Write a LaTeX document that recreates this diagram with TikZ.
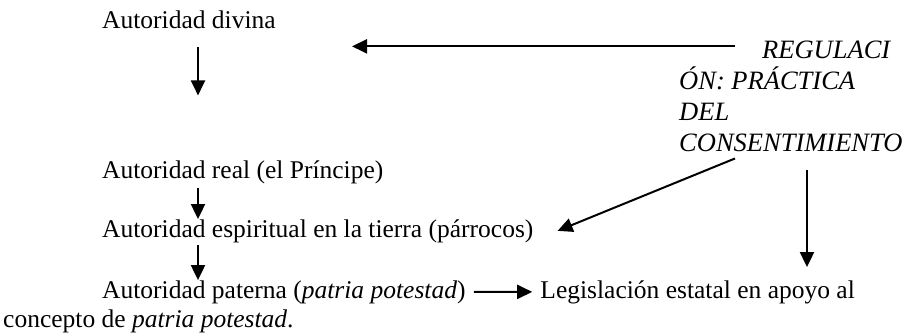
\documentclass[tikz,border=0pt]{standalone}
\usepackage{fontspec}
\setmainfont{Liberation Serif}
\usetikzlibrary{arrows.meta,positioning}

\begin{document}
\begin{tikzpicture}[x=1pt,y=-1pt,
  txt/.style={anchor=base west,inner sep=0pt,font=\fontsize{25.5}{29}\selectfont},
  regtxt/.style={txt,font=\fontsize{26.5}{31}\selectfont\itshape},
  arr/.style={line width=2pt,-{Triangle[length=15pt,width=14pt]}}]

 \useasboundingbox (0,0) rectangle (912,335);
 \coordinate (col) at (198,0);
 \coordinate (rcol) at (807,0);

 % left column
 \node[txt] (divina) at (102,28) {Autoridad divina};
 \node[txt] (real) at (102,178) {Autoridad real (el Príncipe)};
 \node[txt] (espiritual) at (102,237) {Autoridad espiritual en la tierra (párrocos)};
 \node[txt] (paterna) at (102,298) {Autoridad paterna (\textit{patria potestad})};
 \node[txt,anchor=base east] (legis) at (855,298) {Legislación estatal en apoyo al};
 \node[txt] (concepto) at (3,327) {concepto de \textit{patria potestad}.};

 % right block
 \node[regtxt] (reg1) at (762,58) {REGULACI};
 \node[regtxt] (reg2) at (679,89) {ÓN: PRÁCTICA};
 \node[regtxt] (reg3) at (679,120) {DEL};
 \node[regtxt] (reg4) at (679,151) {CONSENTIMIENTO};

 % arrows
 \draw[arr] ([yshift=-19pt]divina.south -| col) -- ++(0,48);
 \draw[arr,shorten <=4pt] (real.south -| col) -- (espiritual.north -| col);
 \draw[arr,shorten <=2pt] (espiritual.south -| col) -- (paterna.north -| col);
 \draw[arr] ([xshift=8pt]paterna.east) -- ([xshift=-8pt]legis.west);
 \draw[arr] ([xshift=-27pt,yshift=3pt]reg1.west) -- ++(-383,0);
 \draw[arr] ([xshift=56pt,yshift=-7pt]reg4.south west) -- ([xshift=24pt]espiritual.east);
 \draw[arr] ([yshift=-19pt]reg4.south -| rcol) -- ([yshift=13pt]legis.north -| rcol);
\end{tikzpicture}
\end{document}
